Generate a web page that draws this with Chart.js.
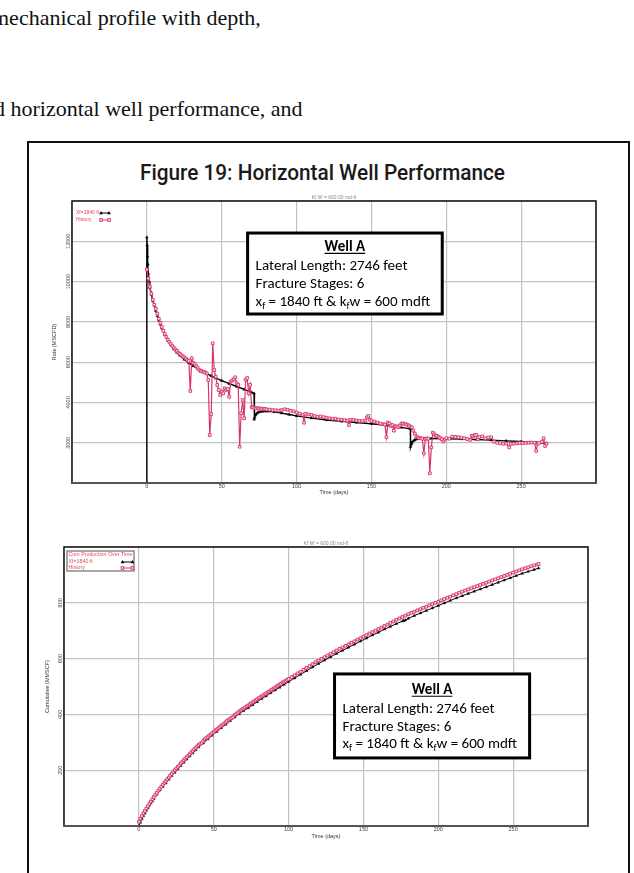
<!DOCTYPE html>
<html>
<head>
<meta charset="utf-8">
<script src="https://cdn.jsdelivr.net/npm/chart.js@4.4.1/dist/chart.umd.min.js"></script>
<style>
  html, body { margin: 0; padding: 0; background: #fff; }
  body { width: 634px; height: 873px; position: relative; overflow: hidden; }
  .prose { position: absolute; font-family: "Liberation Serif", "Times New Roman", serif; font-size: 22px; line-height: 22px; color: #111; white-space: nowrap; }
  #frame { position: absolute; left: 27px; top: 141px; width: 603px; height: 780px; border: 2px solid #111; box-sizing: border-box; }
  #figTitle { position: absolute; left: 140px; top: 162px; font-family: Roboto, "Liberation Sans", sans-serif; font-weight: 500; font-size: 22px; line-height: 22px; color: #1a1a1a; white-space: nowrap; transform-origin: 0 0; }
  canvas { position: absolute; }
</style>
</head>
<body>
<div class="prose" style="left:-8px;top:7px">mechanical profile with depth,</div>
<div class="prose" style="left:-6px;top:98px">d horizontal well performance, and</div>
<div id="frame"></div>
<div id="figTitle">Figure 19: Horizontal Well Performance</div>
<canvas id="rateChart" width="570" height="320" style="left:40px;top:185px"></canvas>
<canvas id="cumChart" width="570" height="320" style="left:30px;top:530px"></canvas>
<script>
// ---- values ----
const DAY_TICKS = [0, 50, 100, 150, 200, 250];
const RATE_TICKS = [2000, 4000, 6000, 8000, 10000, 12000];
const CUM_TICKS = [200, 400, 600, 800];

const MODEL_NAME = 'Xf=1840 ft';
const HISTORY_NAME = 'History';
const CUM_HEADING = 'Cum Production Over Time';
const CASE_TITLE = 'Kf W = 600.00 md-ft';

// simulated gas rate, [day, MSCFD]
const rateModel = [
  [0,0],[0,12200],[0.2,11800],[0.4,11250],[0.7,10850],[1,10400],[1.5,10000],[2,9700],[3,9350],
  [4,9050],[5,8800],[6,8550],[7,8300],[8,8080],[9,7870],[10,7680],[12,7350],[14,7080],[16,6850],
  [18,6650],[20,6480],[22,6330],[25,6130],[28,5960],[31,5810],[34,5670],[37,5550],[40,5430],
  [43,5320],[46,5210],[50,5080],[55,4930],[60,4790],[65,4650],[70,4500],[71.6,4450],[71.7,3160],
  [72,3250],[72.5,3360],[73,3430],[74,3490],[75,3520],[77,3550],[80,3560],[85,3530],[90,3470],
  [95,3400],[100,3330],[110,3220],[120,3130],[130,3060],[140,3000],[150,2940],[160,2860],
  [170,2760],[176,2690],[176.1,1800],[176.5,1920],[177,2010],[178,2090],[179,2140],[180,2170],
  [182,2200],[185,2210],[190,2210],[200,2200],[210,2180],[220,2160],[230,2130],[240,2090],
  [250,2060],[260,2010],[267,1970]
];

// measured gas rate, [day, MSCFD]
const rateHistory = [
  [0,10600],[1,10150],[2,9750],[3,9400],[4,9100],[5,8850],[6,8650],[7,8400],[8,8150],[9,7950],
  [10,7750],[11,7550],[12,7400],[13,7250],[14,7120],[15,7000],[16,6900],[17,6800],[18,6720],
  [19,6630],[20,6560],[21,6480],[22,6410],[23,6340],[24,6290],[25,6240],[26,6180],[27,6110],
  [28,6060],[29,4570],[30,6190],[31,5960],[32,5900],[33,5800],[34,5700],[35,5610],[36,5560],
  [37,5530],[38,5520],[39,5480],[40,5440],[41,5110],[42,2380],[43,3420],[44,6930],[45,5610],
  [46,5280],[47,4870],[48,4620],[49,4370],[50,4530],[51,4450],[52,4700],[53,4620],[54,4660],
  [55,4290],[56,5030],[57,5090],[58,5150],[59,5250],[60,4950],[61,4880],[62,1800],[63,3460],
  [64,4120],[65,3210],[66,5130],[67,5210],[68,4450],[69,4870],[70,3760],[71,3750],[72,3720],
  [73,3700],[74,3720],[75,3680],[76,3700],[77,3690],[78,3660],[79,3680],[80,3650],[82,3640],
  [84,3620],[86,3610],[88,3600],[90,3620],[92,3660],[94,3640],[96,3590],[98,3560],[100,3500],
  [102,3450],[104,3390],[105,3000],[106,3440],[108,3410],[110,3380],[112,3330],[114,3290],
  [116,3300],[118,3270],[120,3240],[122,3210],[124,3190],[126,3190],[128,3150],[130,3140],
  [132,3120],[134,3100],[135,2880],[136,3140],[138,3130],[140,3100],[142,3080],[144,3070],
  [146,3100],[147,3260],[148,3330],[149,3150],[150,3090],[152,3050],[154,3000],[156,2950],
  [158,2920],[159,2900],[160,2270],[161,3000],[162,2950],[163,2830],[164,2880],[165,2600],
  [166,2820],[167,2800],[168,2770],[169,2850],[170,2950],[171,2960],[172,2930],[173,2920],
  [174,2890],[175,2850],[176,2800],[177,2760],[178,2600],[179,2450],[180,2320],[181,2260],
  [182,2230],[183,2220],[184,2200],[185,1470],[186,2180],[187,2220],[188,2200],[189,480],
  [190,1770],[191,2500],[192,2420],[193,2350],[194,2330],[195,2280],[196,2230],[197,2170],
  [198,2060],[199,2150],[200,2220],[202,2200],[204,2300],[206,2290],[208,2270],[210,2250],
  [212,2220],[214,2180],[216,2140],[217,2340],[218,2330],[219,2380],[220,2390],[221,2170],
  [222,2280],[224,2320],[226,2220],[228,2260],[230,2270],[232,2050],[234,2000],[236,1970],
  [238,1950],[240,1960],[242,1770],[243,1940],[245,1950],[247,1970],[249,1990],[251,1980],
  [253,1990],[255,2000],[257,2010],[259,2000],[260,1600],[261,1950],[262,1990],[264,2050],
  [265,2220],[266,1840],[267,1960]
];

// simulated cumulative gas, [day, MMSCF]
const cumModel = [
  [0,0],[1,13],[2,25],[3,36],[4,46],[5,56],[6,65],[7,74],[8,82],[9,90],[10,98],[12,113],[14,128],
  [16,141],[18,154],[20,167],[22,180],[24,192],[26,204],[28,216],[30,228],[32,239],[34,250],
  [36,261],[38,272],[40,283],[43,297],[46,311],[49,325],[52,338],[55,351],[58,364],[61,377],
  [64,390],[67,402],[70,413],[73,423],[76,434],[79,445],[82,456],[85,466],[88,477],[91,487],
  [94,497],[97,507],[100,517],[104,530],[108,543],[112,556],[116,569],[120,582],[124,594],
  [128,606],[132,618],[136,629],[140,640],[144,651],[148,662],[152,673],[156,684],[160,694],
  [164,705],[168,715],[172,725],[176,734],[177,736],[178,738],[180,744],[184,754],[188,763],
  [192,772],[196,781],[200,790],[204,799],[208,808],[212,817],[216,825],[220,833],[224,841],
  [228,849],[232,857],[236,865],[240,873],[244,881],[248,889],[252,897],[256,905],[260,912],
  [264,919],[267,924]
];

// measured cumulative gas, [day, MMSCF]
const cumHistory = [
  [0,15],[1,26],[2,36],[3,45],[4,54],[5,63],[6,71],[7,80],[8,88],[9,96],[10,104],[11,112],[12,119],
  [13,127],[14,134],[15,141],[16,148],[17,155],[18,161],[19,168],[20,174],[21,181],[22,187],
  [23,194],[24,200],[25,206],[26,212],[27,218],[28,224],[29,230],[30,236],[31,242],[32,247],
  [33,253],[34,258],[35,264],[36,269],[37,275],[38,280],[39,286],[40,291],[41,295],[42,298],
  [43,305],[44,311],[45,315],[46,319],[47,324],[48,328],[49,333],[50,337],[51,342],[52,346],
  [53,350],[54,355],[55,359],[56,363],[57,368],[58,372],[59,377],[60,381],[61,385],[62,387],
  [63,391],[64,398],[65,401],[66,405],[67,410],[68,414],[69,418],[70,421],[71,425],[72,429],
  [73,432],[74,436],[75,440],[76,443],[77,447],[78,450],[79,454],[80,458],[81,461],[82,465],
  [83,468],[84,472],[85,475],[86,479],[87,482],[88,486],[89,489],[90,493],[91,496],[92,500],
  [93,503],[94,507],[95,510],[96,514],[97,517],[98,520],[99,524],[100,527],[102,534],[104,540],
  [106,547],[108,553],[110,560],[112,567],[114,573],[116,580],[118,587],[120,593],[122,599],
  [124,605],[126,611],[128,617],[130,623],[132,629],[134,635],[136,640],[138,646],[140,651],
  [142,657],[144,662],[146,668],[148,673],[150,679],[152,684],[154,690],[156,695],[158,700],
  [160,706],[162,711],[164,717],[166,722],[168,728],[170,733],[172,739],[174,744],[176,749],
  [178,754],[180,759],[182,764],[184,768],[186,773],[188,777],[190,782],[192,786],[194,791],
  [196,795],[198,800],[200,804],[202,809],[204,813],[206,818],[208,822],[210,827],[212,831],
  [214,836],[216,840],[218,844],[220,848],[222,852],[224,856],[226,860],[228,864],[230,868],
  [232,872],[234,876],[236,880],[238,884],[240,888],[242,892],[244,896],[246,900],[248,904],
  [250,908],[252,912],[254,916],[256,920],[258,924],[260,927],[262,931],[264,934],[266,937],
  [267,939]
];

// ---- styling ----
const SANS = '"Liberation Sans", Arial, sans-serif';
const NOTE_FONT = 'Carlito, Lato, "Open Sans", sans-serif';
const PINK = '#d7346a';
const LEGEND_RED = '#e9485a';

// stretch the figure heading to its column width
(function () {
  const t = document.getElementById('figTitle');
  const w = t.getBoundingClientRect().width;
  t.style.transform = 'scaleX(' + (365 / w) + ')';
})();

function drawMarker(ctx, style, x, y, color) {
  ctx.save();
  if (style === 'triangle') {
    ctx.fillStyle = color;
    ctx.beginPath();
    ctx.moveTo(x, y - 2); ctx.lineTo(x + 1.8, y + 1.2); ctx.lineTo(x - 1.8, y + 1.2);
    ctx.closePath(); ctx.fill();
  } else {
    ctx.fillStyle = '#fff'; ctx.strokeStyle = color; ctx.lineWidth = 1;
    ctx.fillRect(x - 1.3, y - 1.3, 2.6, 2.6); ctx.strokeRect(x - 1.3, y - 1.3, 2.6, 2.6);
  }
  ctx.restore();
}

// frame, y tick labels, case title, legend and the well note
const decorations = {
  id: 'decorations',
  afterDatasetsDraw(chart, args, o) {
    const { ctx, chartArea: a } = chart;
    const xs = chart.scales.x, ys = chart.scales.y;
    ctx.save();

    // plot frame
    ctx.strokeStyle = '#111'; ctx.lineWidth = 1.5;
    ctx.beginPath();
    ctx.moveTo(a.left, a.bottom); ctx.lineTo(a.left, a.top); ctx.lineTo(a.right, a.top); ctx.lineTo(a.right, a.bottom);
    ctx.stroke();
    ctx.strokeStyle = '#555'; ctx.lineWidth = 2;
    ctx.beginPath(); ctx.moveTo(a.left - 1, a.bottom); ctx.lineTo(a.right + 1, a.bottom); ctx.stroke();

    // rotated y tick labels
    ctx.font = '5.5px ' + SANS; ctx.fillStyle = '#444';
    ctx.textAlign = 'center'; ctx.textBaseline = 'middle';
    o.yTicks.forEach(v => {
      const py = ys.getPixelForValue(v);
      ctx.save(); ctx.translate(a.left - 3.5, py); ctx.rotate(-Math.PI / 2);
      ctx.fillText(String(v), 0, 0); ctx.restore();
    });

    // case title above the plot
    ctx.font = '5px ' + SANS; ctx.fillStyle = '#888';
    ctx.fillText(CASE_TITLE, (a.left + a.right) / 2, a.top - 3);

    // legend
    const lg = o.legend;
    ctx.textAlign = 'left'; ctx.textBaseline = 'middle';
    ctx.font = lg.size + 'px ' + SANS;
    if (lg.box) {
      ctx.strokeStyle = '#8a8a8a'; ctx.lineWidth = 1.5;
      ctx.strokeRect(a.left + lg.box[0], a.top + lg.box[1], lg.box[2], lg.box[3]);
    }
    lg.rows.forEach(r => {
      const ty = a.top + r.dy;
      ctx.fillStyle = LEGEND_RED;
      ctx.fillText(r.text, a.left + lg.textX, ty);
      if (r.kind) {
        const x0 = a.left + lg.sampleX, x1 = x0 + lg.sampleW;
        const col = r.kind === 'model' ? '#000' : PINK;
        ctx.strokeStyle = col; ctx.lineWidth = 1;
        ctx.beginPath(); ctx.moveTo(x0, ty); ctx.lineTo(x1, ty); ctx.stroke();
        drawMarker(ctx, r.kind === 'model' ? 'triangle' : 'rect', x0, ty, col);
        drawMarker(ctx, r.kind === 'model' ? 'triangle' : 'rect', x1, ty, col);
      }
    });

    // well note
    const n = o.note;
    const bx0 = xs.getPixelForValue(n.x0), bx1 = xs.getPixelForValue(n.x1);
    const by0 = ys.getPixelForValue(n.y0), by1 = ys.getPixelForValue(n.y1);
    ctx.fillStyle = '#fff'; ctx.fillRect(bx0, by0, bx1 - bx0, by1 - by0);
    ctx.strokeStyle = '#000'; ctx.lineWidth = 3; ctx.strokeRect(bx0, by0, bx1 - bx0, by1 - by0);

    ctx.font = '15px ' + NOTE_FONT;
    const size = 15 * 152 / ctx.measureText('Lateral Length: 2746 feet').width;
    const fs = size + 'px ' + NOTE_FONT;
    const tx = bx0 + 8;
    ctx.fillStyle = '#000'; ctx.textBaseline = 'middle';

    ctx.font = 'bold ' + fs; ctx.textAlign = 'center';
    const cx = (bx0 + bx1) / 2, ly = n.lines;
    ctx.fillText('Well A', cx, by0 + ly[0]);
    const ww = ctx.measureText('Well A').width;
    ctx.lineWidth = 1.2; ctx.strokeStyle = '#000';
    ctx.beginPath(); ctx.moveTo(cx - ww / 2, by0 + ly[0] + size * 0.42); ctx.lineTo(cx + ww / 2, by0 + ly[0] + size * 0.42); ctx.stroke();

    ctx.font = fs; ctx.textAlign = 'left';
    ctx.fillText('Lateral Length: 2746 feet', tx, by0 + ly[1]);
    ctx.fillText('Fracture Stages: 6', tx, by0 + ly[2]);

    const parts = [['x', 0], ['f', 1], [' = 1840 ft & k', 0], ['f', 1], ['w = 600 mdft', 0]];
    let px = tx;
    parts.forEach(([s, sub]) => {
      ctx.font = sub ? (size * 0.65) + 'px ' + NOTE_FONT : fs;
      ctx.fillText(s, px, by0 + ly[3] + (sub ? size * 0.3 : 0));
      px += ctx.measureText(s).width;
    });
    ctx.restore();
  }
};

function buildChart(id, cfg) {
  return new Chart(document.getElementById(id), {
    type: 'line',
    data: {
      datasets: [
        {
          label: MODEL_NAME,
          data: cfg.model.map(([x, y]) => ({ x, y })),
          borderColor: '#000', backgroundColor: '#000', borderWidth: cfg.modelWidth,
          pointStyle: 'triangle', pointRadius: 1.6, pointBorderWidth: 0.4,
          pointBackgroundColor: '#000', pointBorderColor: '#000', order: 2
        },
        {
          label: HISTORY_NAME,
          data: cfg.history.map(([x, y]) => ({ x, y })),
          borderColor: PINK, backgroundColor: PINK, borderWidth: cfg.historyWidth,
          pointStyle: 'rect', pointRadius: 1.9, pointBorderWidth: 0.9,
          pointBackgroundColor: '#fbe3ea', pointBorderColor: PINK, order: 1
        }
      ]
    },
    options: {
      responsive: false, animation: false, devicePixelRatio: 1,
      layout: { padding: cfg.padding },
      plugins: {
        legend: { display: false }, tooltip: { enabled: false },
        decorations: { yTicks: cfg.yTicks, legend: cfg.legend, note: cfg.note }
      },
      scales: {
        x: {
          type: 'linear', min: -50, max: 300,
          grid: { color: '#c2c2c2', lineWidth: 1.2, drawTicks: false },
          border: { display: false },
          ticks: {
            stepSize: 50, padding: 0, color: '#444', font: { size: 5.5, family: SANS },
            maxRotation: 0, autoSkip: false,
            callback: v => DAY_TICKS.includes(v) ? String(v) : ''
          },
          title: { display: true, text: 'Time (days)', color: '#333', font: { size: 5.5, family: SANS }, padding: { top: 0, bottom: cfg.xTitlePad } },
          afterFit: s => { s.height = cfg.xAxisH; }
        },
        y: {
          type: 'linear', min: 0, max: cfg.yMax,
          grid: { color: '#c2c2c2', lineWidth: 1.2, drawTicks: false },
          border: { display: false },
          ticks: { stepSize: cfg.yStep, display: false },
          title: { display: true, text: cfg.yTitle, color: '#333', font: { size: 5.5, family: SANS }, padding: { top: cfg.yTitlePad, bottom: 0 } },
          afterFit: s => { s.width = cfg.yAxisW; }
        }
      }
    },
    plugins: [decorations]
  });
}

buildChart('rateChart', {
  model: rateModel, history: rateHistory, historyWidth: 1.2, modelWidth: 1.4,
  yMax: 14000, yStep: 2000, yTicks: RATE_TICKS, yTitle: 'Rate (MSCFD)',
  padding: { left: 0, top: 16, right: 14, bottom: 0 },
  xAxisH: 22, yAxisW: 32, xTitlePad: 9.4, yTitlePad: 11.4,
  legend: {
    size: 5, textX: 4, sampleX: 29, sampleW: 8, box: null,
    rows: [{ text: MODEL_NAME, dy: 12, kind: 'model' }, { text: HISTORY_NAME, dy: 19, kind: 'history' }]
  },
  note: { x0: 67.3, x1: 197.3, y0: 12410, y1: 8390, lines: [14, 33, 51, 69] }
});

buildChart('cumChart', {
  model: cumModel, history: cumHistory, historyWidth: 2, modelWidth: 1,
  yMax: 1000, yStep: 200, yTicks: CUM_TICKS, yTitle: 'Cumulative (MMSCF)',
  padding: { left: 0, top: 17, right: 12, bottom: 0 },
  xAxisH: 24, yAxisW: 34, xTitlePad: 10.4, yTitlePad: 14.4,
  legend: {
    size: 5.3, textX: 4.5, sampleX: 58.5, sampleW: 10, box: [3, 4, 67, 20],
    rows: [{ text: CUM_HEADING, dy: 8 }, { text: MODEL_NAME, dy: 15, kind: 'model' }, { text: HISTORY_NAME, dy: 21, kind: 'history' }]
  },
  note: { x0: 130.7, x1: 261, y0: 545, y1: 244, lines: [16, 35, 53, 70] }
});
</script>
</body>
</html>
